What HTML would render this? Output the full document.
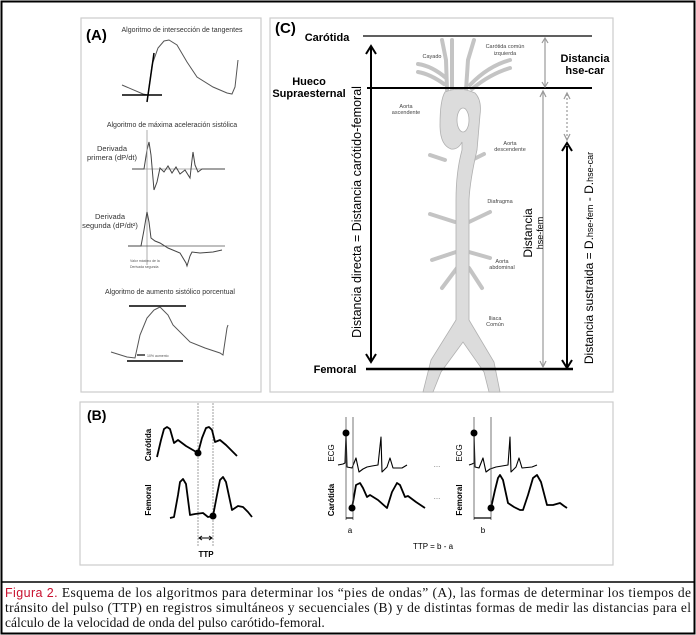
<!DOCTYPE html>
<html><head><meta charset="utf-8"><style>
html,body{margin:0;padding:0;background:#fff}
svg{display:block}
.s{font-family:"Liberation Sans",sans-serif}
</style></head><body>
<svg width="696" height="635" viewBox="0 0 696 635" xmlns="http://www.w3.org/2000/svg">
<rect x="0" y="0" width="696" height="635" fill="#fff"/>
<rect x="1.5" y="1.5" width="693" height="632" fill="none" stroke="#000" stroke-width="2"/>
<line x1="1" y1="582" x2="695" y2="582" stroke="#000" stroke-width="1.5"/>

<rect x="81" y="18" width="180" height="374" fill="#fff" stroke="#ccc" stroke-width="1.2"/>
<rect x="270" y="18" width="343" height="374" fill="#fff" stroke="#ccc" stroke-width="1.2"/>
<rect x="80" y="402" width="533" height="163" fill="#fff" stroke="#ccc" stroke-width="1.2"/>

<g class="s">
<!-- PANEL A -->
<text x="86" y="40" font-size="15" font-weight="bold">(A)</text>
<text x="182" y="32" font-size="7" text-anchor="middle" fill="#333">Algoritmo de intersección de tangentes</text>
<polyline fill="none" stroke="#555" stroke-width="1" points="122,85 143,94 148,95 152,65 158,48 164,41 169,40 177,45 187,62 197,77 213,87 227,93 232,94 235,87 238,60"/>
<line x1="122" y1="95" x2="162" y2="95" stroke="#000" stroke-width="1.5"/>
<line x1="147" y1="102" x2="154" y2="53" stroke="#000" stroke-width="1.5"/>

<text x="172" y="127" font-size="7" text-anchor="middle" fill="#333">Algoritmo de máxima aceleración sistólica</text>
<text x="112" y="151" font-size="7.5" text-anchor="middle" fill="#333">Derivada</text>
<text x="112" y="160" font-size="7.5" text-anchor="middle" fill="#333">primera (dP/dt)</text>
<line x1="132" y1="169" x2="225" y2="169" stroke="#999" stroke-width="0.8"/>
<polyline fill="none" stroke="#444" stroke-width="1" points="132,169 144,169 147,150 149,142 151,155 154,190 157,182 160,168 164,172 168,166 172,173 176,167 180,174 185,170 190,178 192,160 193,152 195,165 198,172 202,169 225,169"/>
<line x1="147" y1="130" x2="147" y2="265" stroke="#999" stroke-width="0.8"/>
<text x="110" y="219" font-size="7.5" text-anchor="middle" fill="#333">Derivada</text>
<text x="110" y="228" font-size="7.5" text-anchor="middle" fill="#333">segunda (dP/dt²)</text>
<line x1="128" y1="246" x2="225" y2="246" stroke="#555" stroke-width="0.8"/>
<polyline fill="none" stroke="#444" stroke-width="1" points="128,246 141,246 144,230 147,212 149,222 151,238 155,241 160,243 168,248 180,253 186,263 187,266 190,256 192,252 200,253 213,252 222,250"/>
<text x="130" y="262" font-size="3.5" fill="#555">Valor máximo de la</text>
<text x="130" y="268" font-size="3.5" fill="#555">Derivada segunda</text>

<text x="170" y="294" font-size="7" text-anchor="middle" fill="#333">Algoritmo de aumento sistólico porcentual</text>
<line x1="129" y1="306" x2="186" y2="306" stroke="#000" stroke-width="1.5"/>
<polyline fill="none" stroke="#555" stroke-width="1" points="111,352 127,357 135,358 140,335 147,318 154,310 160,307 168,315 173,325 190,342 205,348 220,353 223,355 227,328 228,325"/>
<line x1="127" y1="361" x2="183" y2="361" stroke="#000" stroke-width="1.5"/>
<line x1="137" y1="355" x2="145" y2="355" stroke="#000" stroke-width="1.2"/>
<text x="147" y="357" font-size="3.5" fill="#555">10% aumento</text>

<!-- PANEL C aorta -->
<g fill="none" stroke="#c4c4c4" stroke-width="4" stroke-linecap="round">
<path d="M447,90 L446,60 L442,40"/>
<path d="M452,90 L452,40"/>
<path d="M466,90 L468,60 L474,40"/>
<path d="M446,78 Q432,66 418,64"/>
<path d="M444,84 Q430,74 418,72"/>
<path d="M470,85 Q488,66 510,60"/>
<path d="M472,89 Q490,74 510,68"/>
<path d="M445,160 L430,155 M472,160 L484,154 M455,222 L430,214 M469,222 L490,212 M456,252 L432,260 M469,252 L490,258 M457,268 L442,288 M469,268 L482,288"/>
</g>
<path d="M445,92 Q460,86 475,93 Q482,100 480,115 L477,150 Q470,180 469,200 L469,320 L494,362 L500,392 L489,392 L484,372 L463,342 L441,372 L433,392 L423,392 L431,360 L456,320 L456,200 Q456,172 462,150 L462,142 Q458,150 451,149 Q440,145 440,125 Q440,100 445,92 Z" fill="#dcdcdc" stroke="#b0b0b0" stroke-width="0.8"/>
<ellipse cx="463" cy="120" rx="6" ry="12" fill="#fff" stroke="#b0b0b0" stroke-width="0.8"/>
<g font-size="5.5" fill="#444" text-anchor="middle">
<text x="432" y="58">Cayado</text>
<text x="505" y="48">Carótida común</text>
<text x="505" y="55">izquierda</text>
<text x="406" y="108">Aorta</text>
<text x="406" y="114">ascendente</text>
<text x="510" y="145">Aorta</text>
<text x="510" y="151">descendente</text>
<text x="500" y="203">Diafragma</text>
<text x="502" y="263">Aorta</text>
<text x="502" y="269">abdominal</text>
<text x="495" y="320">Iliaca</text>
<text x="495" y="326">Común</text>
</g>

<text x="275" y="33" font-size="15" font-weight="bold">(C)</text>
<text x="327" y="41" font-size="11" font-weight="bold" text-anchor="middle">Carótida</text>
<text x="309" y="85" font-size="11" font-weight="bold" text-anchor="middle">Hueco</text>
<text x="309" y="97" font-size="11" font-weight="bold" text-anchor="middle">Supraesternal</text>
<text x="335" y="373" font-size="11" font-weight="bold" text-anchor="middle">Femoral</text>
<line x1="363" y1="36" x2="592" y2="36" stroke="#000" stroke-width="1.2"/>
<line x1="367" y1="88" x2="592" y2="88" stroke="#000" stroke-width="2"/>
<line x1="366" y1="369" x2="573" y2="369" stroke="#000" stroke-width="2.5"/>

<line x1="371" y1="48" x2="371" y2="360" stroke="#000" stroke-width="2"/>
<path d="M366,54 L371,46 L376,54" fill="none" stroke="#000" stroke-width="2"/>
<path d="M366,354 L371,362 L376,354" fill="none" stroke="#000" stroke-width="2"/>
<text transform="translate(361,212) rotate(-90)" font-size="12.5" text-anchor="middle">Distancia directa = Distancia carótido-femoral</text>

<g stroke="#999" stroke-width="1.2" fill="none">
<line x1="545" y1="39" x2="545" y2="86"/>
<path d="M542,43 L545,38 L548,43 M542,82 L545,87 L548,82"/>
<line x1="543" y1="92" x2="543" y2="366"/>
<path d="M540,97 L543,91 L546,97 M540,361 L543,367 L546,361"/>
<line x1="567" y1="94" x2="567" y2="139" stroke-dasharray="2,2"/>
<path d="M564,99 L567,93 L570,99 M564,134 L567,140 L570,134"/>
</g>
<text x="585" y="62" font-size="11" font-weight="bold" text-anchor="middle">Distancia</text>
<text x="585" y="74" font-size="11" font-weight="bold" text-anchor="middle">hse-car</text>
<text transform="translate(532,233) rotate(-90)" font-size="12" text-anchor="middle">Distancia</text>
<text transform="translate(543,233) rotate(-90)" font-size="9" text-anchor="middle">hse-fem</text>
<line x1="567" y1="146" x2="567" y2="366" stroke="#000" stroke-width="2"/>
<path d="M562,151 L567,143 L572,151 M562,360 L567,368 L572,360" fill="none" stroke="#000" stroke-width="2"/>
<text transform="translate(593,258) rotate(-90)" font-size="12" text-anchor="middle">Distancia sustraida = D.<tspan font-size="9">hse-fem</tspan> - D.<tspan font-size="9">hse-car</tspan></text>

<!-- PANEL B -->
<text x="87" y="420" font-size="14" font-weight="bold">(B)</text>
<text transform="translate(151,445) rotate(-90)" font-size="8" font-weight="bold" text-anchor="middle">Carótida</text>
<text transform="translate(151,500) rotate(-90)" font-size="8" font-weight="bold" text-anchor="middle">Femoral</text>
<line x1="198" y1="403" x2="198" y2="547" stroke="#888" stroke-width="0.8" stroke-dasharray="2,1"/>
<line x1="213" y1="403" x2="213" y2="547" stroke="#888" stroke-width="0.8" stroke-dasharray="2,1"/>
<g fill="none" stroke="#000" stroke-width="1.8" stroke-linejoin="round">
<polyline points="157,457 161,440 164,429 167,427 170,429 174,443 178,440 186,446 198,453 202,438 206,428 209,427 212,430 215,442 220,440 226,445 237,456"/>
<polyline points="170,518 174,517 178,495 180,482 183,479 186,484 190,515 195,514 203,513 208,517 213,516 217,495 220,480 223,477 226,482 232,510 238,506 243,507 248,512 252,517"/>
<polyline points="338,465 343,464 345,463 346,433 347,467 352,468 356,458 359,472 363,469 367,467 372,466 378,465 381,437 382,472 387,467 390,458 393,468 402,468 407,465" stroke-width="1.1"/>
<polyline points="352,508 356,485 358,484 360,483 363,488 367,497 370,495 378,500 387,508 392,492 397,483 400,485 405,497 408,496 416,502 425,508"/>
<polyline points="469,465 472,464 474,463 474,433 475,467 479,468 483,458 486,472 490,469 496,467 502,466 508,465 510,437 511,472 516,467 519,458 522,468 532,467 537,465" stroke-width="1.1"/>
<polyline points="491,508 495,490 498,478 500,475 503,480 508,503 514,507 520,510 523,510 528,495 533,478 537,475 541,482 547,505 553,505 560,503 564,506 567,508"/>
</g>
<circle cx="198" cy="453" r="3.5"/>
<circle cx="213" cy="516" r="3.5"/>
<line x1="200" y1="538" x2="211" y2="538" stroke="#000" stroke-width="1"/>
<path d="M202,536 L199,538 L202,540 M209,536 L212,538 L209,540" fill="none" stroke="#000" stroke-width="1"/>
<text x="206" y="557" font-size="8" font-weight="bold" text-anchor="middle">TTP</text>

<text transform="translate(334,453) rotate(-90)" font-size="8" text-anchor="middle">ECG</text>
<text transform="translate(334,500) rotate(-90)" font-size="8" font-weight="bold" text-anchor="middle">Carótida</text>
<line x1="346" y1="417" x2="346" y2="520" stroke="#555" stroke-width="0.8"/>
<line x1="353" y1="417" x2="353" y2="520" stroke="#555" stroke-width="0.8"/>
<circle cx="346" cy="433" r="3.5"/>
<circle cx="352" cy="508" r="3.5"/>
<line x1="346" y1="518" x2="353" y2="518" stroke="#000" stroke-width="1.2"/>
<text x="350" y="533" font-size="8" text-anchor="middle">a</text>
<text x="437" y="467" font-size="8" text-anchor="middle" fill="#777">...</text>
<text x="437" y="499" font-size="8" text-anchor="middle" fill="#777">...</text>

<text transform="translate(462,453) rotate(-90)" font-size="8" text-anchor="middle">ECG</text>
<text transform="translate(462,500) rotate(-90)" font-size="8" font-weight="bold" text-anchor="middle">Femoral</text>
<line x1="474" y1="417" x2="474" y2="520" stroke="#555" stroke-width="0.8"/>
<line x1="491" y1="417" x2="491" y2="520" stroke="#555" stroke-width="0.8"/>
<circle cx="474" cy="433" r="3.5"/>
<circle cx="491" cy="508" r="3.5"/>
<line x1="474" y1="518" x2="491" y2="518" stroke="#000" stroke-width="1.2"/>
<text x="483" y="533" font-size="8" text-anchor="middle">b</text>
<text x="433" y="549" font-size="8" text-anchor="middle">TTP = b - a</text>
</g>

<g font-family="'Liberation Serif',serif" font-size="13.5" fill="#111">
<text x="5" y="597" textLength="686" lengthAdjust="spacing"><tspan font-family="'Liberation Sans',sans-serif" fill="#c8102e" font-size="12.5">Figura 2.</tspan> Esquema de los algoritmos para determinar los “pies de ondas” (A), las formas de determinar los tiempos de</text>
<text x="5" y="612" textLength="686" lengthAdjust="spacing">tránsito del pulso (TTP) en registros simultáneos y secuenciales (B) y de distintas formas de medir las distancias para el</text>
<text x="5" y="627">cálculo de la velocidad de onda del pulso carótido-femoral.</text>
</g>
</svg>
</body></html>
